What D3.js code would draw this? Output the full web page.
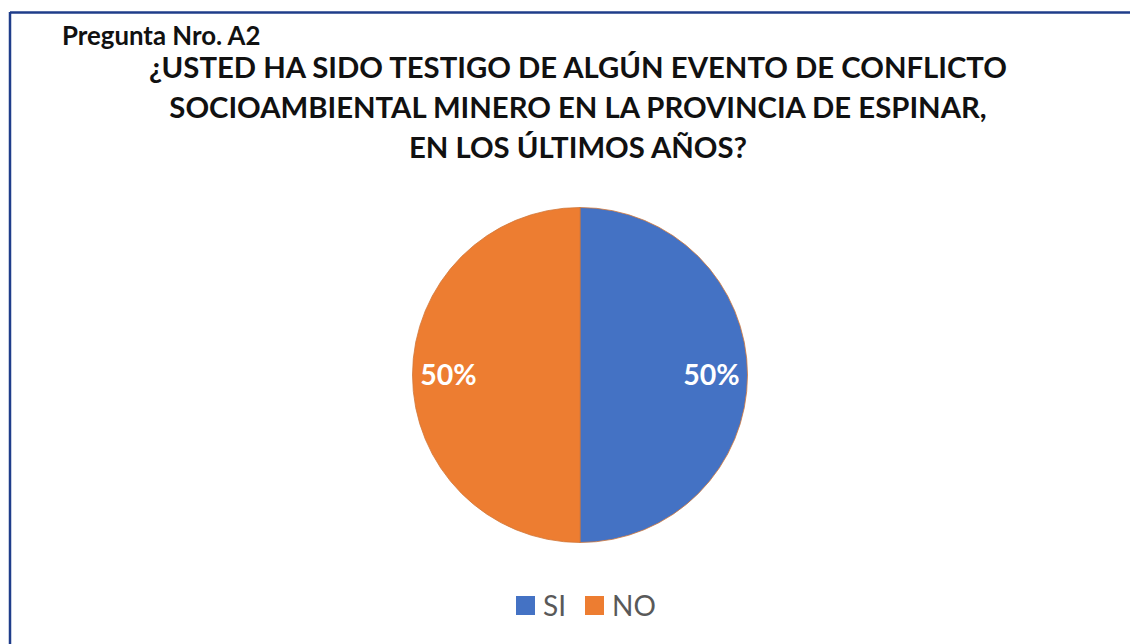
<!DOCTYPE html>
<html>
<head>
<meta charset="utf-8">
<script src="https://cdn.jsdelivr.net/npm/d3@7"></script>
<style>
  html, body { margin: 0; padding: 0; background: #fff; }
  svg { display: block; }
</style>
</head>
<body>
<svg id="chart" width="1130" height="644"></svg>
<script>
// Survey answers and their shares
const categories = ["SI", "NO"];
const shares = [50, 50];
const colors = ["#4472C4", "#ED7D31"];
const subtitle = "Pregunta Nro. A2";
const titleLines = [
  "¿USTED HA SIDO TESTIGO DE ALGÚN EVENTO DE CONFLICTO",
  "SOCIOAMBIENTAL MINERO EN LA PROVINCIA DE ESPINAR,",
  "EN LOS ÚLTIMOS AÑOS?"
];

const svg = d3.select("#chart");
const W = 1130, H = 644;
const font = "Lato, 'Open Sans', sans-serif";

// Frame: top and left rules
svg.append("line").attr("x1", 10).attr("y1", 12.5).attr("x2", W).attr("y2", 12.5)
  .attr("stroke", "#1F3D8A").attr("stroke-width", 2.5);
svg.append("line").attr("x1", 10).attr("y1", 12).attr("x2", 10).attr("y2", H)
  .attr("stroke", "#1F3D8A").attr("stroke-width", 2.5);

// Question number
svg.append("text").attr("x", 62).attr("y", 45)
  .attr("font-family", font).attr("font-weight", 700).attr("font-size", 25.8)
  .attr("fill", "#111").text(subtitle);

// Title
svg.append("g").selectAll("text").data(titleLines).join("text")
  .attr("x", 578).attr("y", (d, i) => 78 + i * 40)
  .attr("text-anchor", "middle")
  .attr("font-family", font).attr("font-weight", 700).attr("font-size", 29.3)
  .attr("fill", "#111").text(d => d);

// Pie
const cx = 580, cy = 375, r = 167.5;
const color = d3.scaleOrdinal().domain(categories).range(colors);
const pie = d3.pie().sort(null).value(d => d.value);
const data = categories.map((c, i) => ({ name: c, value: shares[i] }));
const arcs = pie(data);
const arc = d3.arc().innerRadius(0).outerRadius(r);
const labelArc = d3.arc().innerRadius(r * 0.785).outerRadius(r * 0.785);

const g = svg.append("g").attr("transform", `translate(${cx},${cy})`);
g.selectAll("path").data(arcs).join("path")
  .attr("d", arc).attr("fill", d => color(d.data.name))
  .attr("stroke", "#D0773A").attr("stroke-width", 0.8);

const total = d3.sum(shares);
g.selectAll("text").data(arcs).join("text")
  .attr("transform", d => `translate(${labelArc.centroid(d)})`)
  .attr("text-anchor", "middle").attr("dy", "0.36em")
  .attr("font-family", font).attr("font-weight", 700).attr("font-size", 28.5)
  .attr("fill", "#fff")
  .text(d => d3.format(".0%")(d.data.value / total));

// Legend
const legend = svg.append("g").attr("transform", "translate(516,596)");
const items = legend.selectAll("g").data(categories).join("g")
  .attr("transform", (d, i) => `translate(${i * 69},0)`);
items.append("rect").attr("width", 19).attr("height", 19)
  .attr("fill", d => color(d));
items.append("text").attr("x", 27).attr("y", 19.5)
  .attr("font-family", font).attr("font-size", 28).attr("fill", "#595959")
  .text(d => d);
</script>
</body>
</html>
